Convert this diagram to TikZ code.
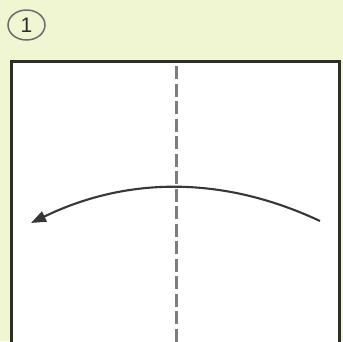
\documentclass[tikz,border=0pt]{standalone}
\usepackage{fontspec}
\newfontfamily\numfont{Liberation Sans}
\usetikzlibrary{arrows.meta}
\definecolor{bgc}{RGB}{240,245,210}
\definecolor{framec}{RGB}{45,45,45}
\definecolor{foldc}{RGB}{125,125,125}
\definecolor{arrowc}{RGB}{55,55,55}
\tikzset{
  frameline/.style={draw=framec, line width=3.0pt, fill=white},
  foldline/.style={draw=foldc, line width=3.0pt, dash pattern=on 13pt off 4.5pt},
  turnarrow/.style={draw=arrowc, line width=2.1pt, -{Triangle[length=15pt,width=11pt]}},
  stepmark/.style={draw=framec!70, line width=1.5pt}
}
\begin{document}
\begin{tikzpicture}[x=1pt,y=-1pt]
\useasboundingbox (0,0) rectangle (343,341);
\fill[bgc] (0,0) rectangle (343,341);
\begin{scope}
\clip (0,0) rectangle (343,341);
\draw[frameline] (11,61) rectangle (339,360);
\draw[foldline] (176,66) -- (176,345);
\end{scope}
\coordinate (s) at (320,221);
\coordinate (e) at (31,223);
\draw[turnarrow] (s) .. controls (224,176) and (128,176) .. (e);
\draw[stepmark] (26.5,25) ellipse [x radius=18.5pt, y radius=15pt];
\node[font=\numfont\fontsize{21}{21}\selectfont, text=framec] (num) at (26.5,25.5) {1};
\end{tikzpicture}
\end{document}
